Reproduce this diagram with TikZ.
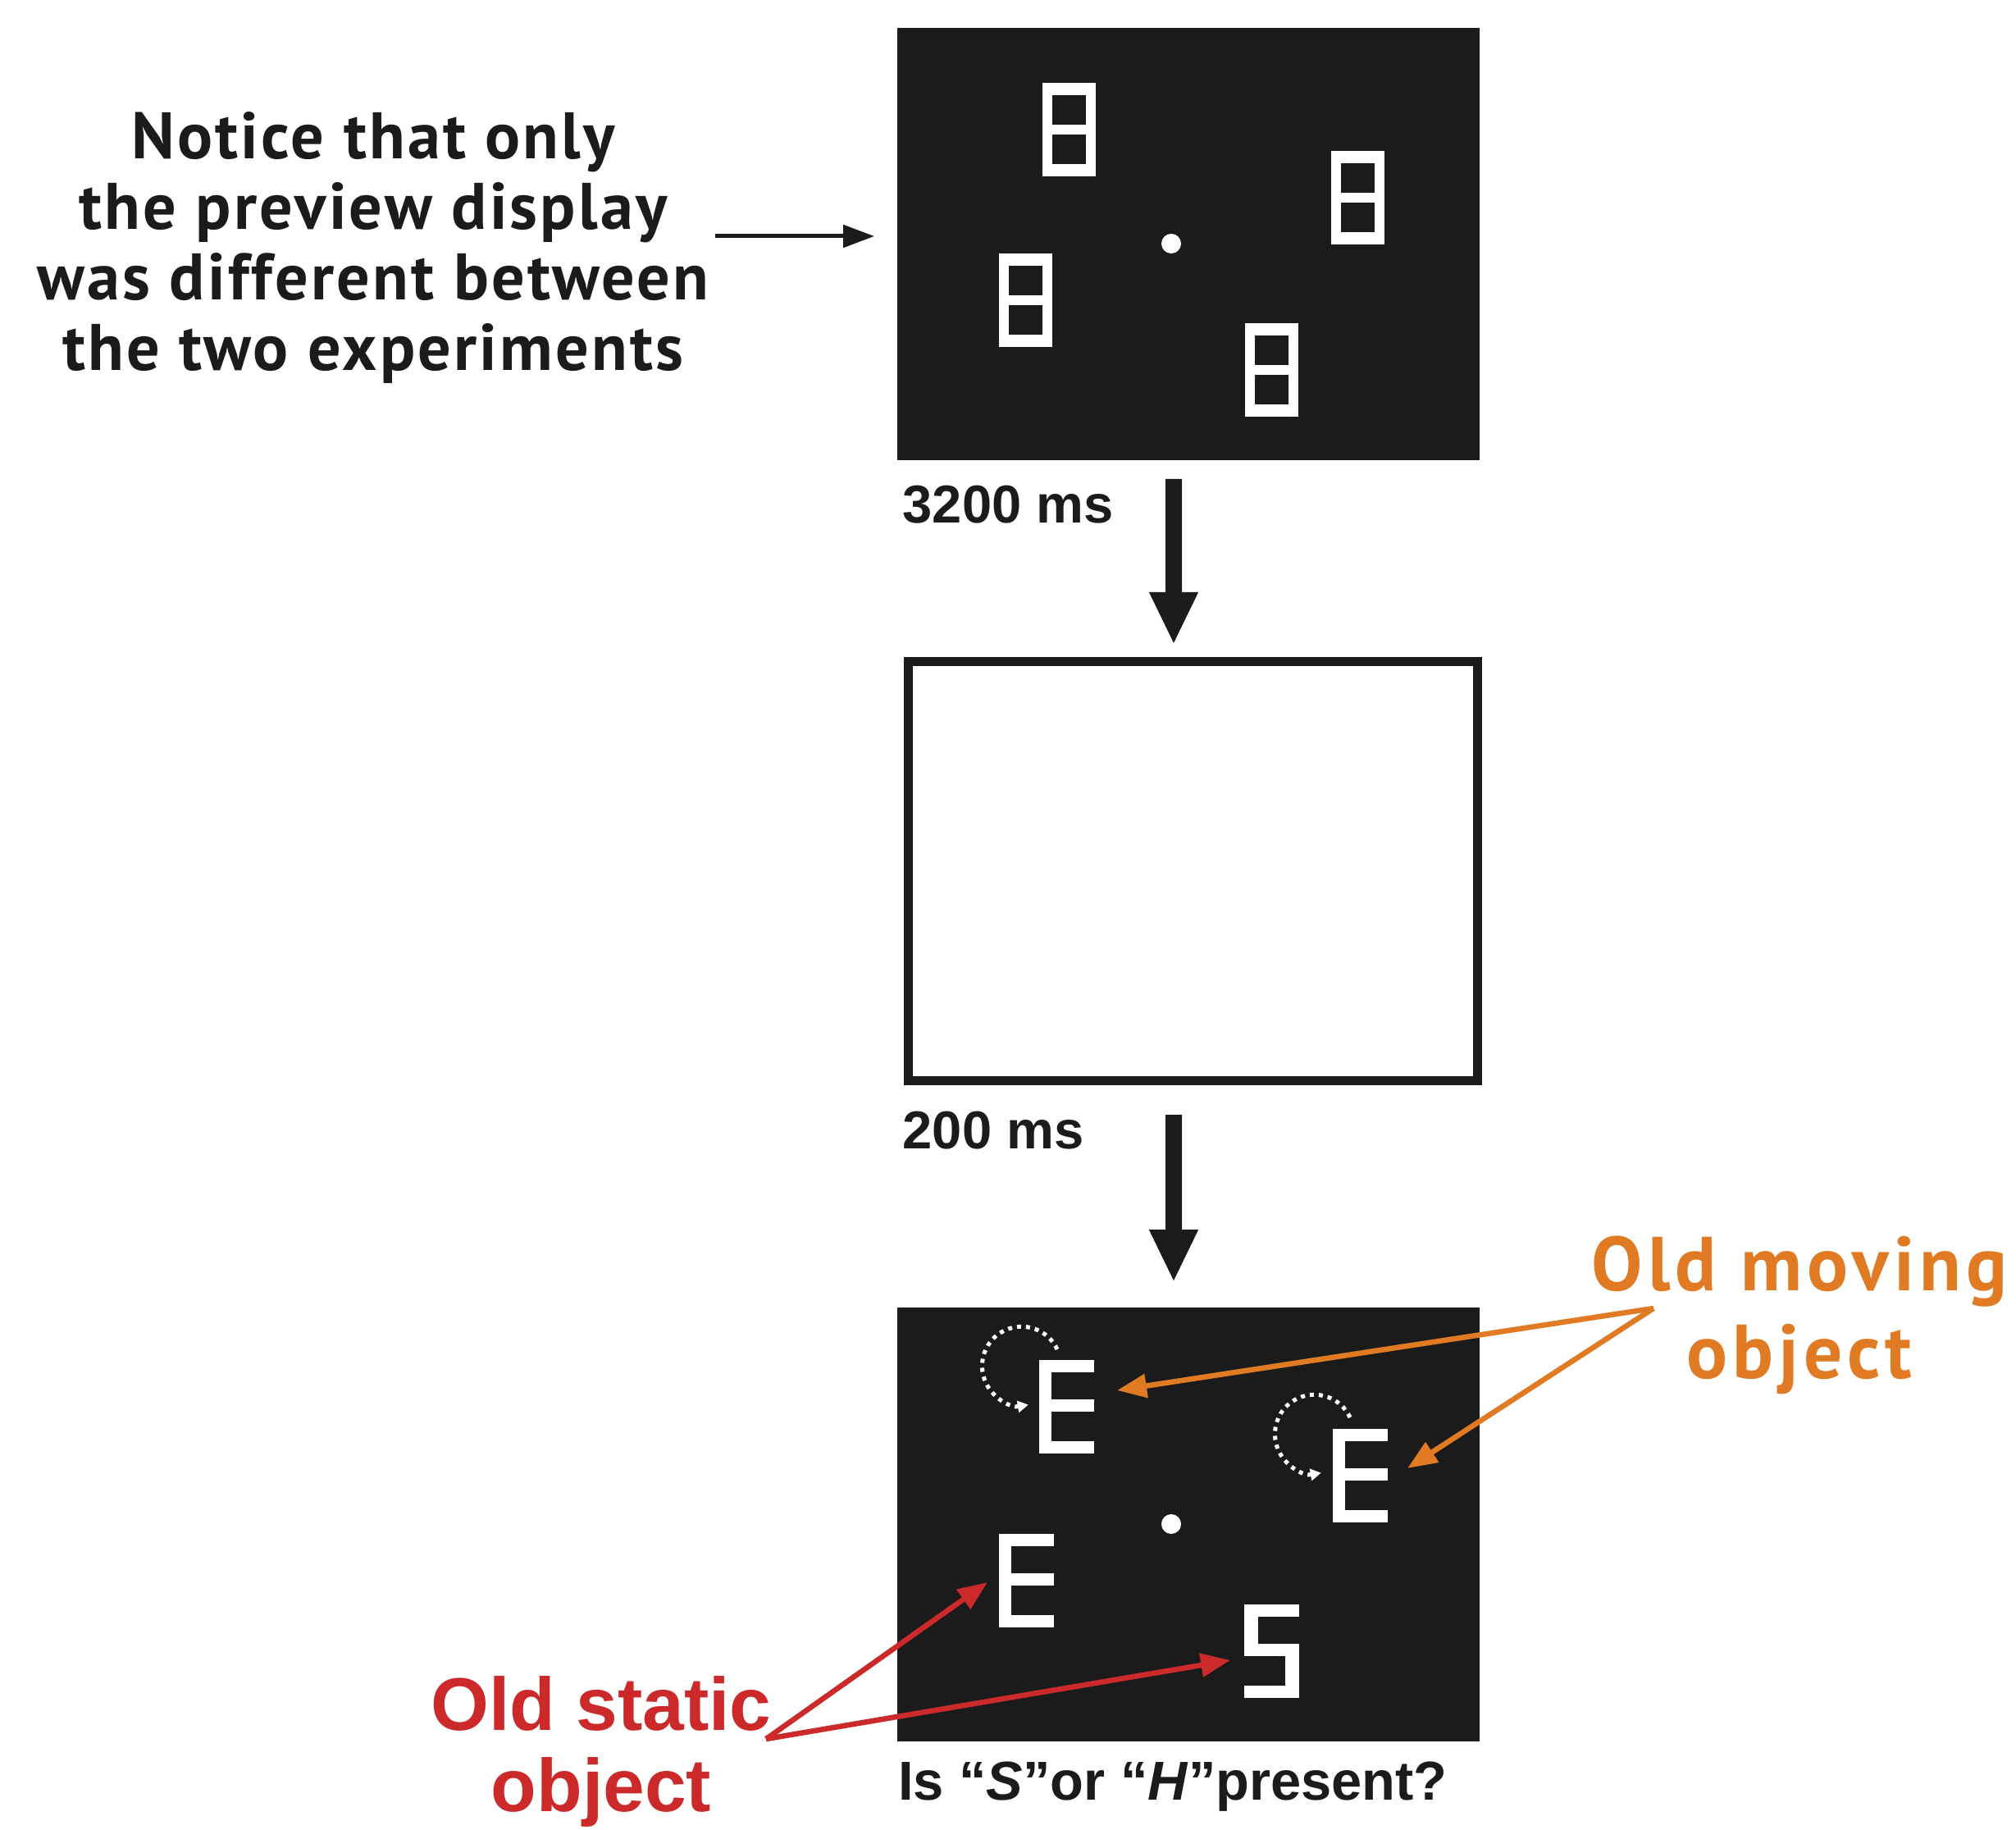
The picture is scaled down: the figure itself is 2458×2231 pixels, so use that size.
\documentclass[tikz,border=0pt]{standalone}
\usepackage{fontspec}
\usetikzlibrary{arrows.meta}
\newfontfamily\ptsans{PT Sans}
\newfontfamily\ptsansnote{PT Sans}[LetterSpace=4]
\newfontfamily\ptsanswide{PT Sans}[LetterSpace=6.5]
\newfontfamily\libsans{Liberation Sans}
\definecolor{panelbg}{HTML}{1B1B1B}
\definecolor{movorange}{HTML}{E07B24}
\definecolor{statred}{HTML}{CC2A2A}
\newcommand{\holderbox}[2]{%
  \fill[white] (#1,#2) rectangle ++(65,114);
  \fill[panelbg] ({#1+12},{#2+15}) rectangle ++(41,36);
  \fill[panelbg] ({#1+12},{#2+63}) rectangle ++(41,36);
}
\newcommand{\drawE}[2]{%
  \fill[white] (#1,#2) rectangle ++(15,114);
  \fill[white] (#1,#2) rectangle ++(67,15);
  \fill[white] (#1,{#2+48}) rectangle ++(67,15);
  \fill[white] (#1,{#2+99}) rectangle ++(67,15);
}
\newcommand{\drawS}[2]{%
  \fill[white] (#1,#2) rectangle ++(67,15);
  \fill[white] (#1,#2) rectangle ++(17,63);
  \fill[white] (#1,{#2+48}) rectangle ++(67,15);
  \fill[white] ({#1+50},{#2+48}) rectangle ++(17,66);
  \fill[white] (#1,{#2+99}) rectangle ++(67,15);
}
\newcommand{\movearc}[2]{%
  \draw[dotarc] ({#1+43},{#2-20}) arc[start angle=25,end angle=280,radius=0.48cm];
}
\tikzset{
  panel/.style={fill=panelbg, inner sep=0pt, minimum width=7.10cm, minimum height=5.27cm},
  blankpanel/.style={fill=white, draw=panelbg, line width=0.11cm, inner sep=0pt, minimum width=6.94cm, minimum height=5.11cm},
  bigarrow/.style={draw=panelbg, line width=0.2cm, -{Triangle[length=0.64cm,width=0.55cm]}},
  thinarrow/.style={draw=panelbg, line width=0.05cm, -{Triangle[length=0.38cm,width=0.27cm]}},
  movarrow/.style={draw=movorange, line width=0.065cm, -{Triangle[length=0.36cm,width=0.28cm]}},
  statarrow/.style={draw=statred, line width=0.065cm, -{Triangle[length=0.36cm,width=0.28cm]}},
  dotarc/.style={draw=white, line width=0.05cm, dash pattern=on 0.05cm off 0.06cm, -{Triangle[length=0.13cm,width=0.14cm]}},
  fixdot/.style={circle, fill=white, inner sep=0pt, minimum size=0.24cm},
  noticetxt/.style={font=\ptsansnote\bfseries\fontsize{22.8}{24.5}\selectfont, align=center, inner sep=0pt, text=panelbg},
  timetxt/.style={font=\libsans\bfseries\fontsize{18.5}{22}\selectfont, inner sep=0pt, text=panelbg},
  movlabel/.style={font=\ptsanswide\bfseries\fontsize{26.5}{30.2}\selectfont, align=center, inner sep=0pt, text=movorange},
  statlabel/.style={font=\libsans\bfseries\fontsize{25.9}{27.9}\selectfont, align=center, inner sep=0pt, text=statred},
  qlabel/.style={font=\libsans\bfseries\fontsize{19}{22}\selectfont, inner sep=0pt, text=panelbg},
}
\begin{document}
\begin{tikzpicture}[x=0.01cm, y=-0.01cm]
\fill[white] (0,0) rectangle (2458,2231);
\useasboundingbox (0,0) rectangle (2458,2231);

% panels
\node[panel] (p1) at (1449,297.5) {};
\node[blankpanel] (p2) at (1454.5,1062) {};
\node[panel, minimum height=5.29cm] (p3) at (1449,1858.5) {};

% preview display
\holderbox{1271}{101}
\holderbox{1623}{184}
\holderbox{1218}{309}
\holderbox{1518}{394}
\node[fixdot] (fix1) at (1428,297) {};

% search display
\drawE{1267}{1658}
\drawE{1625}{1742}
\drawE{1218}{1870}
\drawS{1517}{1956}
\movearc{1246}{1665}
\movearc{1603}{1748}
\node[fixdot] (fix3) at (1428,1858) {};

% timing labels
\node[timetxt, anchor=base west] (t1) at (1100,637) {3200 ms};
\node[timetxt, anchor=base west] (t2) at (1100,1400) {200 ms};

% flow arrows
\draw[bigarrow] ([xshift=-0.18cm, yshift=-0.22cm]p1.south) -- ([xshift=-0.235cm, yshift=0.15cm]p2.north);
\draw[bigarrow] ([xshift=-0.235cm, yshift=-0.36cm]p2.south) -- ([xshift=-0.18cm, yshift=0.30cm]p3.north);

% notice text
\node[noticetxt, anchor=base] (notice) at (455,452) {Notice that only\\the preview display\\was different between\\the two experiments};
\coordinate (nstart) at (872,288);
\draw[thinarrow, shorten >=0.27cm] (nstart) -- (p1.west |- nstart);

% moving object labels
\node[movlabel, anchor=base] (oldmov) at (2194,1680) {Old moving\\object};
\coordinate (movsrc) at (2016,1595);
\coordinate (e1tip) at (1362,1695);
\coordinate (e2tip) at (1716,1790);
\draw[movarrow] (movsrc) -- (e1tip);
\draw[movarrow] (movsrc) -- (e2tip);

% static object labels
\node[statlabel, anchor=base] (oldstat) at (733,2208) {Old static\\object};
\coordinate (statsrc) at (934,2120);
\coordinate (e3tip) at (1204,1929);
\coordinate (stip) at (1500,2024);
\draw[statarrow] (statsrc) -- (e3tip);
\draw[statarrow] (statsrc) -- (stip);

% question
\node[qlabel, anchor=base] (question) at (1430,2194) {Is “\textit{S}”or “\textit{H}”present?};
\end{tikzpicture}
\end{document}
